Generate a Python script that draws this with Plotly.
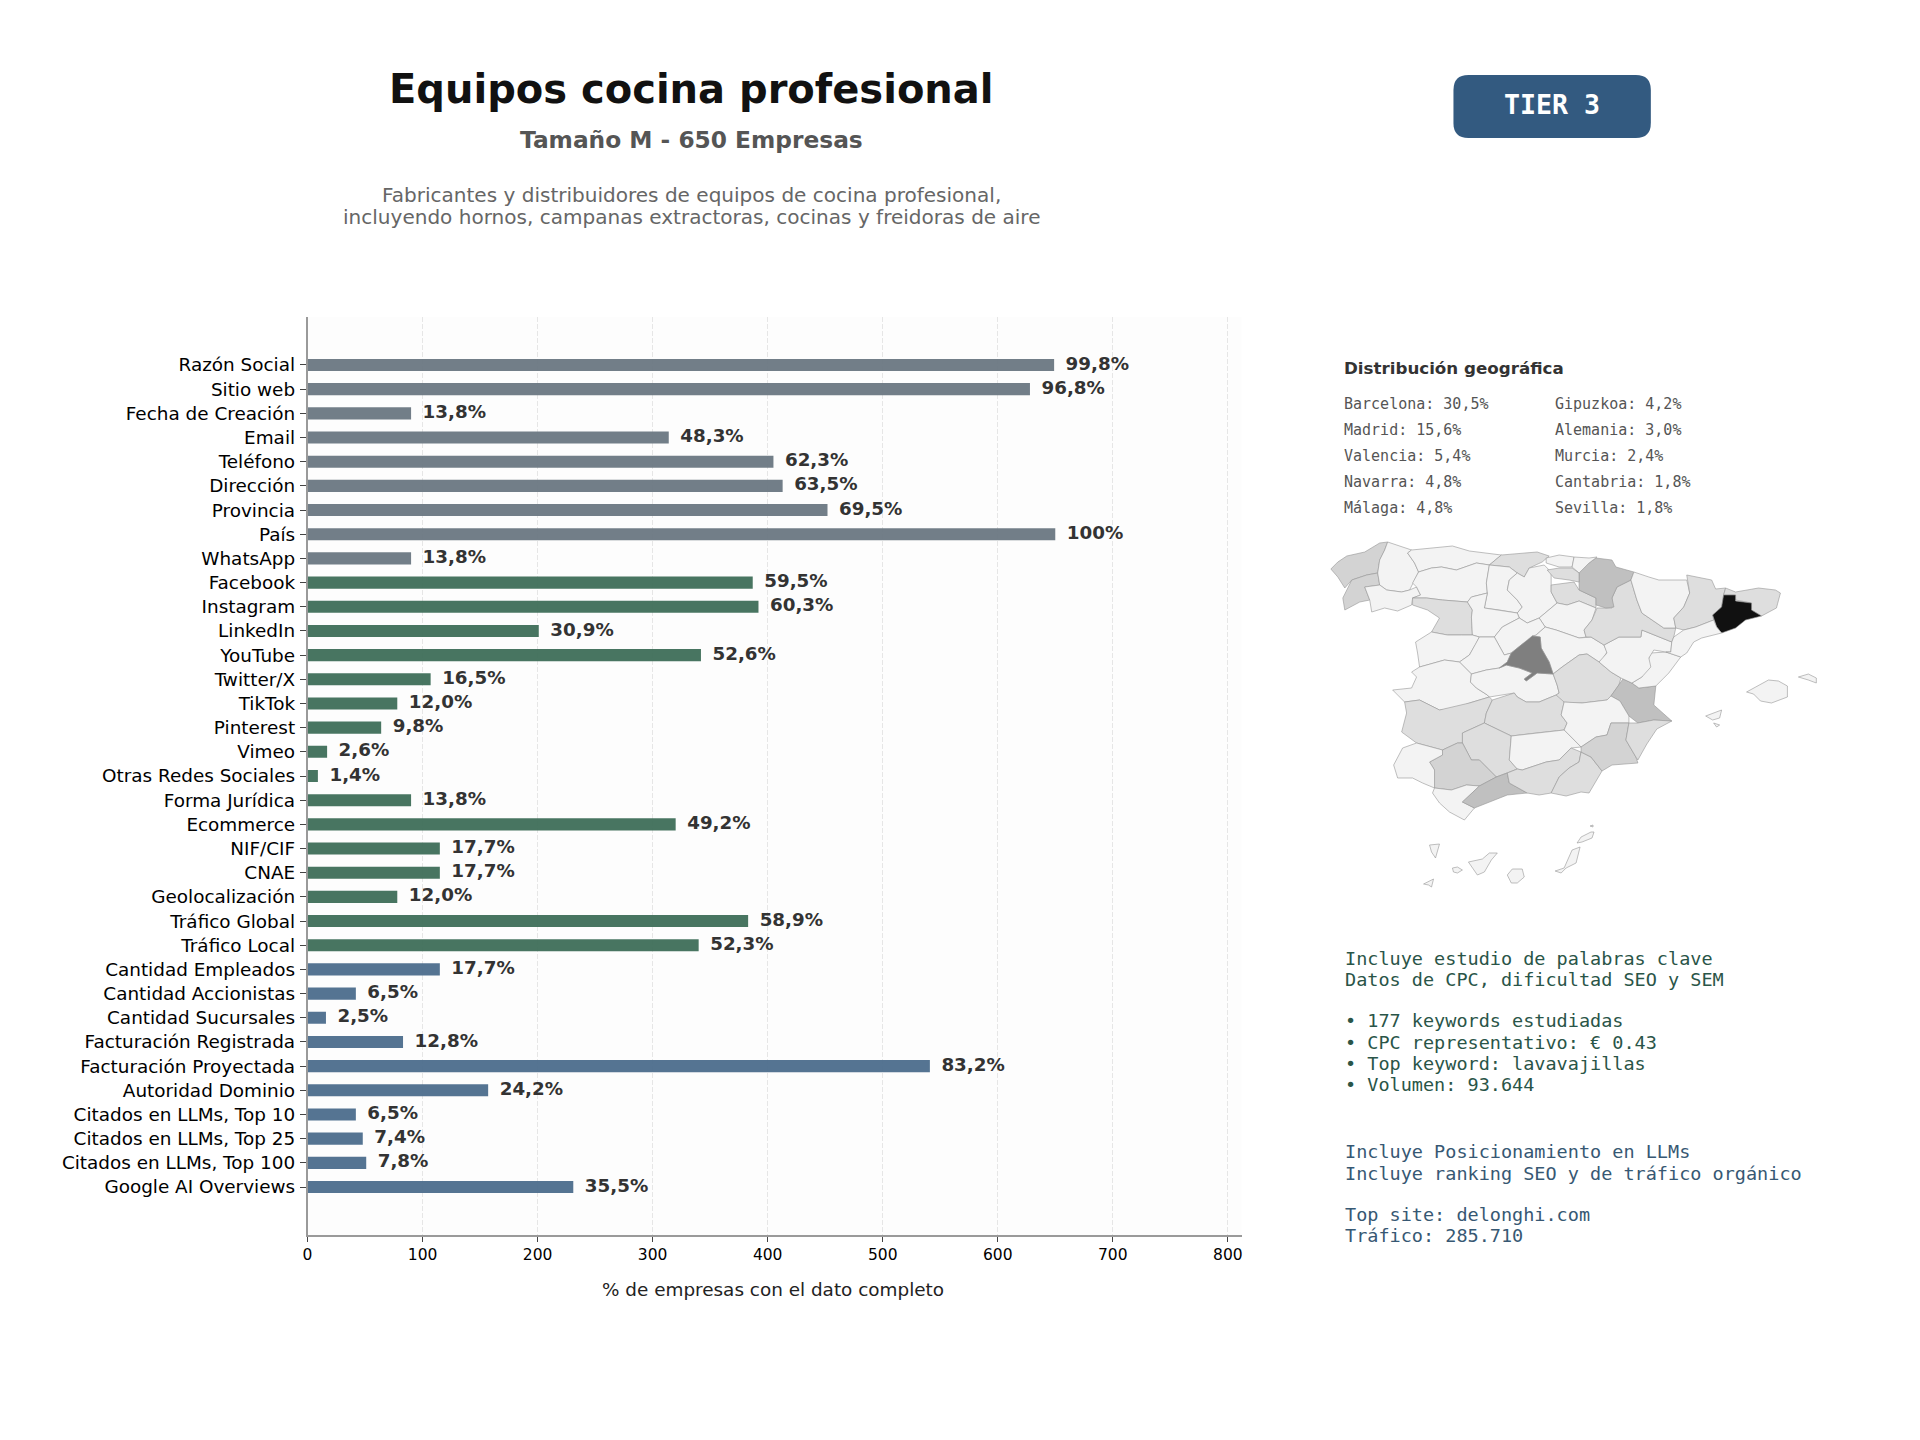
import plotly.graph_objects as go

WIDTH = 1920
HEIGHT = 1440

categories = ["Razón Social", "Sitio web", "Fecha de Creación", "Email", "Teléfono", "Dirección",
              "Provincia", "País", "WhatsApp", "Facebook", "Instagram", "LinkedIn", "YouTube",
              "Twitter/X", "TikTok", "Pinterest", "Vimeo", "Otras Redes Sociales", "Forma Jurídica",
              "Ecommerce", "NIF/CIF", "CNAE", "Geolocalización", "Tráfico Global", "Tráfico Local",
              "Cantidad Empleados", "Cantidad Accionistas", "Cantidad Sucursales",
              "Facturación Registrada", "Facturación Proyectada", "Autoridad Dominio",
              "Citados en LLMs, Top 10", "Citados en LLMs, Top 25", "Citados en LLMs, Top 100",
              "Google AI Overviews"]
values = [649, 628, 90, 314, 405, 413, 452, 650, 90, 387, 392, 201, 342, 107, 78, 64, 17, 9, 90,
          320, 115, 115, 78, 383, 340, 115, 42, 16, 83, 541, 157, 42, 48, 51, 231]
value_labels = ["99,8%", "96,8%", "13,8%", "48,3%", "62,3%", "63,5%", "69,5%", "100%", "13,8%",
                "59,5%", "60,3%", "30,9%", "52,6%", "16,5%", "12,0%", "9,8%", "2,6%", "1,4%",
                "13,8%", "49,2%", "17,7%", "17,7%", "12,0%", "58,9%", "52,3%", "17,7%", "6,5%",
                "2,5%", "12,8%", "83,2%", "24,2%", "6,5%", "7,4%", "7,8%", "35,5%"]
bar_colors = ["#67747f"] * 9 + ["#3a6b55"] * 16 + ["#48698a"] * 10
x_ticks = [0, 100, 200, 300, 400, 500, 600, 700, 800]

geo_left = ["Barcelona: 30,5%", "Madrid: 15,6%", "Valencia: 5,4%", "Navarra: 4,8%", "Málaga: 4,8%"]
geo_right = ["Gipuzkoa: 4,2%", "Alemania: 3,0%", "Murcia: 2,4%", "Cantabria: 1,8%", "Sevilla: 1,8%"]
keyword_lines = ["Incluye estudio de palabras clave", "Datos de CPC, dificultad SEO y SEM", "",
                 "• 177 keywords estudiadas", "• CPC representativo: € 0.43",
                 "• Top keyword: lavavajillas", "• Volumen: 93.644"]
llm_lines = ["Incluye Posicionamiento en LLMs", "Incluye ranking SEO y de tráfico orgánico", "",
             "Top site: delonghi.com", "Tráfico: 285.710"]

# province outlines, (x, y) with y going down
LIGHT = "#f3f3f3"
MID = "#dedede"
SOFT = "#d3d3d3"
DARK = "#c0c0c0"
provinces = {
    "A Coruña": (SOFT, [(1, 39), (8, 32), (17, 26), (35, 22), (50, 13), (58, 12), (55, 20), (50, 30), (48, 43), (37, 45), (22, 50), (15, 58), (8, 47)]),
    "Pontevedra": (SOFT, [(22, 50), (37, 45), (48, 43), (50, 55), (35, 57), (40, 70), (30, 72), (15, 80), (13, 68), (17, 60)]),
    "Lugo": (LIGHT, [(58, 12), (72, 17), (82, 20), (78, 23), (85, 33), (89, 42), (83, 53), (80, 60), (72, 62), (57, 60), (50, 55), (48, 43), (50, 30), (55, 20)]),
    "Ourense": (LIGHT, [(35, 57), (50, 55), (57, 60), (72, 62), (80, 60), (87, 57), (91, 65), (83, 68), (82, 75), (68, 81), (55, 78), (42, 82), (40, 70)]),
    "Asturias": (LIGHT, [(82, 20), (100, 18), (123, 16), (140, 21), (172, 25), (160, 35), (147, 33), (127, 40), (112, 37), (102, 38), (89, 42), (85, 33), (78, 23)]),
    "Cantabria": (MID, [(172, 25), (200, 23), (208, 22), (220, 26), (213, 32), (200, 38), (195, 47), (188, 43), (180, 37), (160, 35)]),
    "León": (LIGHT, [(89, 42), (102, 38), (112, 37), (127, 40), (147, 33), (160, 35), (157, 53), (158, 63), (142, 67), (138, 72), (113, 70), (97, 68), (83, 68), (91, 65), (87, 57), (83, 53)]),
    "Palencia": (LIGHT, [(160, 35), (180, 37), (188, 43), (180, 50), (178, 60), (188, 70), (193, 77), (188, 83), (170, 80), (155, 78), (158, 63), (157, 53)]),
    "Burgos": (LIGHT, [(195, 47), (200, 38), (215, 35), (222, 42), (222, 50), (222, 62), (228, 73), (210, 88), (198, 93), (190, 88), (188, 83), (193, 77), (188, 70), (178, 60), (180, 50), (188, 43)]),
    "Zamora": (MID, [(83, 68), (97, 68), (113, 70), (138, 72), (143, 80), (142, 87), (143, 105), (132, 105), (118, 105), (102, 102), (110, 88), (98, 80), (83, 75)]),
    "Valladolid": (LIGHT, [(142, 67), (158, 63), (155, 78), (170, 80), (188, 83), (190, 88), (173, 97), (165, 107), (150, 107), (143, 105), (142, 87), (143, 80), (138, 72)]),
    "La Rioja": (MID, [(222, 55), (245, 52), (250, 60), (267, 68), (267, 78), (250, 71), (238, 75), (228, 73), (222, 62)]),
    "Soria": (LIGHT, [(210, 88), (228, 73), (238, 75), (250, 71), (267, 78), (263, 90), (255, 100), (257, 107), (250, 108), (227, 100), (216, 97)]),
    "Segovia": (LIGHT, [(190, 88), (198, 93), (210, 88), (216, 97), (207, 105), (192, 115), (182, 123), (175, 125), (165, 107), (173, 97)]),
    "Salamanca": (LIGHT, [(102, 102), (118, 105), (132, 105), (143, 105), (150, 107), (147, 113), (140, 125), (130, 132), (115, 130), (107, 132), (90, 137), (88, 123), (86, 112)]),
    "Ávila": (LIGHT, [(150, 107), (165, 107), (175, 125), (182, 123), (178, 132), (170, 138), (157, 140), (142, 144), (138, 140), (130, 132), (140, 125), (147, 113)]),
    "Cáceres": (LIGHT, [(90, 137), (107, 132), (115, 130), (130, 132), (138, 140), (142, 144), (141, 152), (147, 158), (158, 165), (160, 167), (140, 173), (128, 178), (110, 180), (90, 170), (75, 172), (63, 160), (82, 158), (87, 147), (82, 142)]),
    "Toledo": (LIGHT, [(142, 144), (157, 140), (170, 138), (177, 135), (190, 138), (203, 143), (195, 149), (197, 151), (208, 143), (224, 144), (228, 155), (230, 163), (227, 165), (210, 172), (197, 172), (188, 167), (185, 163), (170, 165), (160, 167), (158, 165), (147, 158), (141, 152)]),
    "Guadalajara": (LIGHT, [(216, 97), (227, 100), (250, 108), (262, 107), (275, 115), (278, 122), (273, 130), (270, 132), (258, 124), (250, 125), (233, 137), (224, 144), (220, 132), (212, 118), (211, 107), (203, 106), (207, 105)]),
    "Cuenca": (MID, [(224, 144), (233, 137), (250, 125), (258, 124), (270, 132), (282, 142), (292, 148), (290, 155), (282, 166), (278, 170), (253, 173), (230, 172), (227, 165), (230, 163), (228, 155)]),
    "Valencia": (DARK, [(282, 166), (294, 149), (303, 153), (310, 158), (327, 156), (325, 175), (343, 191), (325, 190), (309, 193), (300, 186), (291, 171)]),
    "Castellón": (LIGHT, [(303, 153), (313, 147), (322, 123), (337, 122), (352, 127), (340, 143), (327, 156), (310, 158)]),
    "Teruel": (LIGHT, [(270, 132), (278, 123), (275, 115), (290, 107), (312, 107), (313, 100), (343, 112), (342, 122), (337, 122), (325, 120), (320, 128), (322, 137), (313, 147), (303, 153), (292, 148), (282, 142)]),
    "Zaragoza": (MID, [(255, 100), (263, 90), (268, 78), (283, 78), (283, 68), (288, 57), (302, 50), (308, 70), (313, 83), (335, 98), (347, 98), (345, 107), (343, 112), (313, 100), (312, 107), (290, 107), (275, 115), (262, 107), (257, 107)]),
    "Navarra": (DARK, [(250, 43), (260, 33), (267, 28), (283, 30), (287, 37), (305, 42), (302, 50), (288, 57), (283, 68), (285, 77), (277, 78), (267, 75), (267, 68), (250, 60), (250, 52)]),
    "Bizkaia": (LIGHT, [(217, 28), (230, 25), (245, 27), (243, 37), (230, 37), (217, 33)]),
    "Gipuzkoa": (LIGHT, [(245, 27), (260, 28), (268, 27), (260, 33), (250, 43), (243, 37)]),
    "Álava": (MID, [(218, 40), (230, 38), (243, 38), (250, 43), (250, 52), (240, 50), (225, 48)]),
    "Huesca": (LIGHT, [(302, 50), (305, 42), (320, 47), (330, 50), (358, 50), (361, 63), (355, 77), (345, 88), (347, 98), (335, 98), (313, 83), (308, 70)]),
    "Lleida": (MID, [(358, 45), (383, 50), (387, 59), (397, 58), (395, 65), (393, 77), (384, 85), (385, 90), (367, 97), (355, 100), (347, 98), (345, 88), (355, 77), (361, 63)]),
    "Girona": (MID, [(397, 58), (407, 62), (430, 58), (447, 60), (452, 63), (448, 78), (433, 86), (423, 80), (423, 73), (407, 70), (407, 65), (395, 65)]),
    "Barcelona": ("#111111", [(395, 65), (407, 65), (407, 71), (423, 73), (423, 80), (433, 86), (417, 90), (407, 98), (393, 103), (388, 97), (384, 85), (393, 77)]),
    "Tarragona": (LIGHT, [(345, 107), (355, 100), (367, 97), (385, 90), (388, 97), (393, 103), (373, 108), (365, 112), (358, 123), (352, 127), (337, 122), (342, 122), (343, 112)]),
    "Madrid": ("#7f7f7f", [(170, 138), (178, 132), (182, 123), (192, 115), (203, 106), (211, 107), (212, 118), (220, 132), (224, 144), (208, 143), (197, 151), (195, 149), (203, 143), (190, 138), (177, 135)]),
    "Badajoz": (MID, [(75, 172), (90, 170), (110, 180), (140, 173), (160, 167), (163, 170), (157, 183), (155, 193), (133, 203), (133, 213), (128, 213), (113, 220), (87, 213), (72, 202), (77, 183)]),
    "Ciudad Real": (MID, [(163, 170), (185, 163), (188, 167), (197, 172), (210, 172), (227, 165), (235, 172), (232, 185), (238, 193), (235, 200), (207, 203), (182, 206), (155, 193), (157, 183)]),
    "Albacete": (LIGHT, [(235, 172), (253, 173), (278, 170), (282, 166), (291, 171), (300, 186), (300, 193), (282, 193), (278, 205), (267, 207), (252, 217), (245, 210), (235, 200), (238, 193), (232, 185)]),
    "Córdoba": (MID, [(133, 203), (155, 193), (182, 206), (180, 230), (188, 239), (178, 243), (167, 247), (150, 230), (142, 230), (133, 213)]),
    "Jaén": (LIGHT, [(182, 206), (207, 203), (235, 200), (245, 210), (252, 217), (242, 218), (230, 230), (217, 232), (193, 240), (188, 239), (180, 230)]),
    "Sevilla": (SOFT, [(100, 232), (113, 225), (113, 220), (128, 213), (133, 213), (142, 230), (150, 230), (167, 247), (150, 256), (137, 255), (122, 260), (105, 258), (105, 240)]),
    "Huelva": (LIGHT, [(64, 235), (73, 218), (87, 213), (113, 220), (113, 225), (100, 232), (105, 240), (105, 258), (93, 253), (83, 248), (68, 248)]),
    "Cádiz": (LIGHT, [(103, 263), (105, 258), (122, 260), (137, 255), (150, 256), (133, 272), (145, 278), (135, 290), (120, 282), (110, 273)]),
    "Málaga": (DARK, [(133, 272), (150, 256), (167, 247), (178, 243), (180, 253), (198, 263), (178, 265), (160, 272), (145, 278)]),
    "Granada": (MID, [(178, 243), (188, 239), (193, 240), (217, 232), (230, 230), (242, 218), (252, 222), (250, 232), (240, 238), (230, 247), (222, 263), (210, 265), (198, 263), (180, 253)]),
    "Almería": (MID, [(230, 247), (240, 238), (250, 232), (252, 222), (262, 227), (273, 241), (260, 263), (252, 262), (237, 266), (222, 263)]),
    "Murcia": (SOFT, [(252, 217), (267, 207), (278, 205), (282, 193), (300, 193), (297, 210), (307, 227), (309, 233), (283, 235), (273, 241), (262, 227), (252, 222)]),
    "Alicante": (MID, [(300, 193), (309, 193), (325, 190), (343, 191), (328, 199), (318, 214), (309, 230), (307, 227), (297, 210)]),
    "Mallorca": (LIGHT, [(418, 162), (440, 150), (450, 151), (459, 156), (459, 167), (443, 173), (432, 171), (425, 164)]),
    "Menorca": (LIGHT, [(470, 147), (480, 144), (488, 148), (488, 153), (480, 150)]),
    "Ibiza": (LIGHT, [(377, 186), (393, 180), (391, 188), (384, 190)]),
    "Formentera": (LIGHT, [(385, 193), (391, 195), (388, 197)]),
    "La Palma": (LIGHT, [(100, 315), (110, 314), (106, 328), (102, 322)]),
    "La Gomera": (LIGHT, [(123, 338), (128, 337), (133, 340), (128, 343), (124, 342)]),
    "El Hierro": (LIGHT, [(94, 354), (104, 349), (102, 357), (99, 355)]),
    "Tenerife": (LIGHT, [(139, 332), (153, 329), (160, 323), (168, 323), (162, 330), (155, 342), (148, 345), (143, 338)]),
    "Gran Canaria": (LIGHT, [(178, 345), (183, 339), (193, 339), (195, 347), (188, 353), (182, 353)]),
    "Fuerteventura": (LIGHT, [(226, 341), (235, 338), (243, 320), (251, 317), (247, 333), (237, 338), (232, 343)]),
    "Lanzarote": (LIGHT, [(248, 313), (252, 307), (262, 302), (265, 302), (263, 308), (253, 312)]),
    "La Graciosa": (LIGHT, [(261, 296), (264, 295), (264, 297)]),
}


def px(x):
    return x / WIDTH


def py(y):
    return 1 - y / HEIGHT


def add_text(fig, x, y, text, size, color, family="DejaVu Sans", anchor="left"):
    fig.add_annotation(x=px(x), y=py(y), xref="paper", yref="paper", text=text, showarrow=False,
                       xanchor=anchor, yanchor="middle", borderpad=0,
                       font=dict(family=family, size=size, color=color))


fig = go.Figure()

# bars and their labels
fig.add_trace(go.Bar(x=values, y=categories, orientation="h", width=0.5,
                     marker=dict(color=bar_colors, opacity=0.93, line_width=0), showlegend=False))
fig.add_trace(go.Scatter(x=[v + 10 for v in values], y=categories, mode="text",
                         text=[f"<b>{t}</b>" for t in value_labels],
                         textposition="middle right", showlegend=False,
                         textfont=dict(family="DejaVu Sans", size=18.3, color="#333333")))

# map of Spain
for name, (color, outline) in provinces.items():
    xs = [p[0] for p in outline] + [outline[0][0]]
    ys = [p[1] for p in outline] + [outline[0][1]]
    fig.add_trace(go.Scatter(x=xs, y=ys, xaxis="x2", yaxis="y2", mode="lines", fill="toself",
                             fillcolor=color, name=name, showlegend=False,
                             line=dict(color="#969696", width=0.6)))

fig.update_layout(
    width=WIDTH, height=HEIGHT, margin=dict(l=0, r=0, t=0, b=0),
    paper_bgcolor="white", plot_bgcolor="white", font=dict(family="DejaVu Sans", color="#000000"),
    xaxis=dict(domain=[px(303.5), px(1240.5)], range=[0, 812], tickvals=x_ticks, showgrid=True,
               gridcolor="#e6e6e6", griddash="5px,2px", gridwidth=1, zeroline=False,
               showline=True, linecolor="#9a9a9a", linewidth=1.5, ticks="outside", ticklen=5,
               tickcolor="#444444", tickfont=dict(size=15.5)),
    yaxis=dict(domain=[py(1235), py(317)], type="category", categoryorder="array",
               categoryarray=categories, range=[35.985, -1.985], showgrid=False, zeroline=False,
               showline=True, linecolor="#9a9a9a", linewidth=1.5, ticks="outside", ticklen=6,
               tickcolor="#444444", tickfont=dict(size=18.4), ticklabelstandoff=1),
    xaxis2=dict(domain=[px(1329), px(1849)], range=[0, 520], visible=False, anchor="y2"),
    yaxis2=dict(domain=[py(890), py(530)], range=[360, 0], visible=False, anchor="x2"),
)

# light panel behind the bars only, the map sits on plain white
fig.add_shape(type="rect", xref="x domain", yref="y domain", x0=0, x1=1, y0=0, y1=1,
              fillcolor="#fdfdfd", line_width=0, layer="below")

# tier badge
left, right, top, bottom, r = 1453, 1651, 75, 138, 15
fig.add_shape(type="path", xref="paper", yref="paper", fillcolor="#335a80", line_width=0,
              path=f"M {px(left + r)} {py(top)} L {px(right - r)} {py(top)} Q {px(right)} {py(top)} {px(right)} {py(top + r)} "
                   f"L {px(right)} {py(bottom - r)} Q {px(right)} {py(bottom)} {px(right - r)} {py(bottom)} "
                   f"L {px(left + r)} {py(bottom)} Q {px(left)} {py(bottom)} {px(left)} {py(bottom - r)} "
                   f"L {px(left)} {py(top + r)} Q {px(left)} {py(top)} {px(left + r)} {py(top)} Z")
add_text(fig, 1552, 105, "<b>TIER 3</b>", 26.6, "white", "DejaVu Sans Mono", "center")

# header
add_text(fig, 689, 89, "<b>Equipos cocina profesional</b>", 40, "#111111", anchor="center")
add_text(fig, 689, 140, "<b>Tamaño M - 650 Empresas</b>", 23.3, "#555555", anchor="center")
add_text(fig, 689, 195, "Fabricantes y distribuidores de equipos de cocina profesional,", 20.05, "#666666", anchor="center")
add_text(fig, 689, 217, "incluyendo hornos, campanas extractoras, cocinas y freidoras de aire", 20.05, "#666666", anchor="center")

add_text(fig, 770, 1289, "% de empresas con el dato completo", 18.4, "#222222", anchor="center")

# geographic list
add_text(fig, 1342, 368, "<b>Distribución geográfica</b>", 16.7, "#333333")
for i, row_y in enumerate([404, 430, 456, 482, 508]):
    add_text(fig, 1342, row_y, geo_left[i], 15, "#555555", "DejaVu Sans Mono")
    add_text(fig, 1554, row_y, geo_right[i], 15, "#555555", "DejaVu Sans Mono")

# side notes
for line, row_y in zip(keyword_lines, [958, 979, 1000, 1020, 1042, 1063, 1084]):
    if line:
        add_text(fig, 1343, row_y, line, 18.5, "#2a5548", "DejaVu Sans Mono")
for line, row_y in zip(llm_lines, [1151, 1173, 1194, 1214, 1235]):
    if line:
        add_text(fig, 1343, row_y, line, 18.5, "#375873", "DejaVu Sans Mono")

fig.write_html("out.html", config=dict(displayModeBar=False),
               post_script="document.body.style.margin='0';")
